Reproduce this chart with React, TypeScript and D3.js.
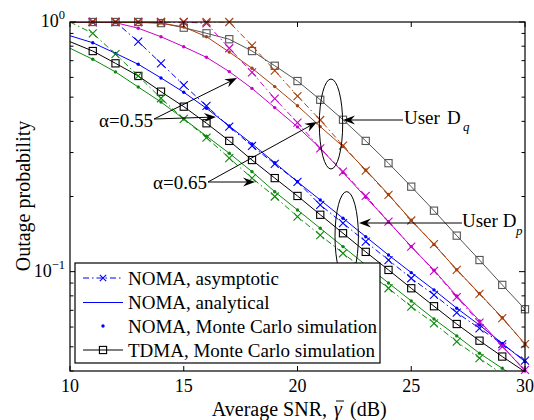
import React from 'react';
import * as d3 from 'd3';

// average SNR (dB)
const snr = [10, 11, 12, 13, 14, 15, 16, 17, 18, 19, 20, 21, 22, 23, 24, 25, 26, 27, 28, 29, 30];

// user Dp, NOMA alpha = 0.55 (blue)
const blueAnalytical = [0.881, 0.826, 0.749, 0.677, 0.597, 0.523, 0.451, 0.383, 0.325, 0.273, 0.229, 0.1937, 0.1636, 0.138, 0.1166, 0.0991, 0.0845, 0.0714, 0.0611, 0.0516, 0.0436];
const blueAsymptotic = [1, 1, 1, 0.834, 0.683, 0.559, 0.461, 0.381, 0.319, 0.27, 0.229, 0.185, 0.1563, 0.1318, 0.1113, 0.0941, 0.0807, 0.0685, 0.0593, 0.0513, 0.044];
// user Dp, NOMA alpha = 0.65 (green)
const greenAnalytical = [0.785, 0.709, 0.631, 0.549, 0.478, 0.409, 0.349, 0.298, 0.2515, 0.209, 0.1767, 0.1492, 0.126, 0.1063, 0.0901, 0.0763, 0.0646, 0.0553, 0.0471, 0.041, 0.0355];
const greenAsymptotic = [1, 0.901, 0.744, 0.608, 0.495, 0.409, 0.344, 0.285, 0.237, 0.2, 0.166, 0.14, 0.1185, 0.1007, 0.0858, 0.0724, 0.0621, 0.0524, 0.045, 0.0389, 0.0335];
// user Dq, NOMA alpha = 0.55 (magenta)
const magentaAnalytical = [0.999, 0.998, 0.994, 0.944, 0.873, 0.796, 0.722, 0.633, 0.542, 0.454, 0.38, 0.312, 0.2496, 0.1986, 0.1585, 0.126, 0.1013, 0.0799, 0.0635, 0.0504, 0.04];
const magentaAsymptotic = [1, 1, 1, 1, 1, 1, 0.988, 0.785, 0.629, 0.493, 0.395, 0.312, 0.2515, 0.201, 0.1585, 0.126, 0.1007, 0.079, 0.0625, 0.0501, 0.0404];
// user Dq, NOMA alpha = 0.65 (brown)
const brownAnalytical = [1, 1, 0.998, 0.995, 0.99, 0.955, 0.873, 0.758, 0.653, 0.551, 0.462, 0.381, 0.317, 0.2555, 0.2038, 0.1606, 0.1285, 0.1018, 0.0817, 0.0654, 0.0513];
const brownAsymptotic = [1, 1, 1, 1, 1, 1, 1, 1, 0.804, 0.639, 0.505, 0.405, 0.32, 0.254, 0.203, 0.1603, 0.129, 0.1016, 0.0814, 0.0651, 0.0513];
// TDMA
const tdmaDp = [0.834, 0.765, 0.683, 0.608, 0.526, 0.458, 0.393, 0.334, 0.28, 0.237, 0.201, 0.169, 0.1425, 0.12, 0.1016, 0.0858, 0.0727, 0.0617, 0.0529, 0.0457, 0.0397];
const tdmaDq = [1, 1, 1, 1, 0.99, 0.949, 0.901, 0.853, 0.765, 0.668, 0.58, 0.488, 0.406, 0.334, 0.272, 0.219, 0.1755, 0.1394, 0.1113, 0.0885, 0.0707];

const xTicks = [10, 15, 20, 25, 30];
const yMajor = [0.1, 1];
const yMajorLabels = ['\u22121', '0'];
const yMinor = [0.04, 0.05, 0.06, 0.07, 0.08, 0.09, 0.2, 0.3, 0.4, 0.5, 0.6, 0.7, 0.8, 0.9];
const legendLabels = ['NOMA, asymptotic', 'NOMA, analytical', 'NOMA, Monte Carlo simulation', 'TDMA, Monte Carlo simulation'];

const W = 534;
const H = 420;
const left = 70, right = 525, top = 22, bottom = 371;
const serif = '"Liberation Serif", "DejaVu Serif", serif';

const x = d3.scaleLinear().domain([10, 30]).range([left, right]);
const y = d3.scaleLog().domain([0.04, 1]).range([bottom, top]);

const blue = '#0000ff';
const green = '#0a8a0a';
const magenta = '#c800c8';
const brown = '#a5420f';
const gray = '#555555';

type Kind = 'asym' | 'ana' | 'tdma';
const series: { vals: number[]; color: string; kind: Kind }[] = [
  { vals: tdmaDp, color: '#000000', kind: 'tdma' },
  { vals: tdmaDq, color: gray, kind: 'tdma' },
  { vals: blueAnalytical, color: blue, kind: 'ana' },
  { vals: blueAsymptotic, color: blue, kind: 'asym' },
  { vals: greenAnalytical, color: green, kind: 'ana' },
  { vals: greenAsymptotic, color: green, kind: 'asym' },
  { vals: magentaAnalytical, color: magenta, kind: 'ana' },
  { vals: magentaAsymptotic, color: magenta, kind: 'asym' },
  { vals: brownAnalytical, color: brown, kind: 'ana' },
  { vals: brownAsymptotic, color: brown, kind: 'asym' },
];

const dashDot = '6,3,1.5,3';

const line = d3
  .line<number>()
  .x((_, i) => x(snr[i]))
  .y(d => y(d));

const Marker = ({ kind, cx, cy, color, s = 4 }: { kind: Kind; cx: number; cy: number; color: string; s?: number }) => {
  if (kind === 'asym')
    return <path d={`M${cx - s},${cy - s}L${cx + s},${cy + s}M${cx - s},${cy + s}L${cx + s},${cy - s}`} stroke={color} strokeWidth={1.1} fill="none" />;
  if (kind === 'tdma')
    return <rect x={cx - 3.6} y={cy - 3.6} width={7.2} height={7.2} stroke={color} strokeWidth={1.1} fill="none" />;
  return <circle cx={cx} cy={cy} r={1.7} fill={color} />;
};

const Arrow = ({ x1, y1, x2, y2 }: { x1: number; y1: number; x2: number; y2: number }) => {
  const a = Math.atan2(y2 - y1, x2 - x1);
  const pt = (l: number, w: number) =>
    `${x2 - l * Math.cos(a) - w * Math.sin(a)},${y2 - l * Math.sin(a) + w * Math.cos(a)}`;
  return (
    <g>
      <line x1={x1} y1={y1} x2={x2 - 8 * Math.cos(a)} y2={y2 - 8 * Math.sin(a)} stroke="#000" strokeWidth={1} />
      <polygon points={`${x2},${y2} ${pt(12, 4.5)} ${pt(8, 0)} ${pt(12, -4.5)}`} fill="#000" />
    </g>
  );
};

const App = () => {
  const legendRows = [278, 302.5, 326, 350];
  return (
    <svg width={W} height={H} style={{ position: 'absolute', left: 0, top: 0, background: '#fff' }} fontFamily={serif}>
      <defs>
        <clipPath id="plot">
          <rect x={left} y={top} width={right - left} height={bottom - top} />
        </clipPath>
      </defs>
      <rect x={0} y={0} width={W} height={H} fill="#fff" />

      {/* curves */}
      <g clipPath="url(#plot)">
        {series.map((s, i) => (
          <path
            key={i}
            d={line(s.vals) || ''}
            fill="none"
            stroke={s.color}
            strokeWidth={1}
            strokeDasharray={s.kind === 'asym' ? dashDot : undefined}
          />
        ))}
      </g>
      {series.map((s, i) => (
        <g key={i}>
          {s.vals.map((v, j) =>
            snr[j] >= 11 && v >= 0.04 && v <= 1 ? (
              <Marker key={j} kind={s.kind} cx={x(snr[j])} cy={y(v)} color={s.color} />
            ) : null
          )}
        </g>
      ))}

      {/* frame and ticks */}
      <rect x={left} y={top} width={right - left} height={bottom - top} fill="none" stroke="#000" strokeWidth={1.2} />
      {xTicks.map(t => (
        <g key={t}>
          <line x1={x(t)} x2={x(t)} y1={bottom} y2={bottom - 5} stroke="#000" />
          <line x1={x(t)} x2={x(t)} y1={top} y2={top + 5} stroke="#000" />
          <text x={x(t)} y={392} textAnchor="middle" fontSize={18}>
            {t}
          </text>
        </g>
      ))}
      {yMajor.map((t, i) => (
        <g key={t}>
          <line x1={left} x2={left + 6} y1={y(t)} y2={y(t)} stroke="#000" />
          <line x1={right} x2={right - 6} y1={y(t)} y2={y(t)} stroke="#000" />
          <text x={65} y={y(t) + 5} textAnchor="end" fontSize={18}>
            10
            <tspan dy={-8} fontSize={12.5}>
              {yMajorLabels[i]}
            </tspan>
          </text>
        </g>
      ))}
      {yMinor.map(t => (
        <g key={t}>
          <line x1={left} x2={left + 3.5} y1={y(t)} y2={y(t)} stroke="#000" />
          <line x1={right} x2={right - 3.5} y1={y(t)} y2={y(t)} stroke="#000" />
        </g>
      ))}

      {/* axis labels */}
      <text x={327} y={416} textAnchor="end" fontSize={20}>
        Average SNR,
      </text>
      <text x={334} y={416} fontSize={20} fontStyle="italic">
        γ
      </text>
      <line x1={336} x2={344} y1={401} y2={401} stroke="#000" strokeWidth={1} />
      <text x={350} y={416} fontSize={20}>
        (dB)
      </text>
      <text transform="translate(30,196) rotate(-90)" textAnchor="middle" fontSize={20}>
        Outage probability
      </text>

      {/* annotations */}
      <text x={153} y={127} textAnchor="end" fontSize={19}>
        α=0.55
      </text>
      <Arrow x1={154} y1={119} x2={237} y2={78} />
      <Arrow x1={154} y1={119} x2={216} y2={117} />
      <text x={207} y={189} textAnchor="end" fontSize={19}>
        α=0.65
      </text>
      <Arrow x1={208} y1={182} x2={255} y2={182} />
      <Arrow x1={208} y1={182} x2={317} y2={122} />

      <ellipse cx={331} cy={124} rx={11.7} ry={45} fill="none" stroke="#000" strokeWidth={1} />
      <ellipse cx={346.7} cy={236.3} rx={11.7} ry={44.7} fill="none" stroke="#000" strokeWidth={1} />
      <Arrow x1={403} y1={120} x2={343} y2={120} />
      <text x={404} y={124} fontSize={19}>
        User
      </text>
      <text x={447} y={124} fontSize={19}>
        D
      </text>
      <text x={463} y={131} fontSize={13} fontStyle="italic">
        q
      </text>
      <Arrow x1={462} y1={223} x2={359} y2={223} />
      <text x={462} y={227} fontSize={19}>
        User D
      </text>
      <text x={516} y={235} fontSize={13} fontStyle="italic">
        p
      </text>

      {/* legend */}
      <rect x={75} y={263} width={305} height={100} fill="#fff" stroke="#000" strokeWidth={1.2} />
      {legendLabels.map((label, i) => {
        const ly = legendRows[i];
        const kind: Kind = i === 0 ? 'asym' : i === 3 ? 'tdma' : 'ana';
        const color = i === 3 ? '#000' : blue;
        return (
          <g key={label}>
            {i !== 2 && (
              <line x1={83} x2={123} y1={ly} y2={ly} stroke={color} strokeWidth={1} strokeDasharray={i === 0 ? dashDot : undefined} />
            )}
            {i !== 1 && <Marker kind={kind} cx={103} cy={ly} color={color} s={3.2} />}
            <text x={128} y={ly + 6.5} fontSize={19}>
              {label}
            </text>
          </g>
        );
      })}
    </svg>
  );
};

export default App;
